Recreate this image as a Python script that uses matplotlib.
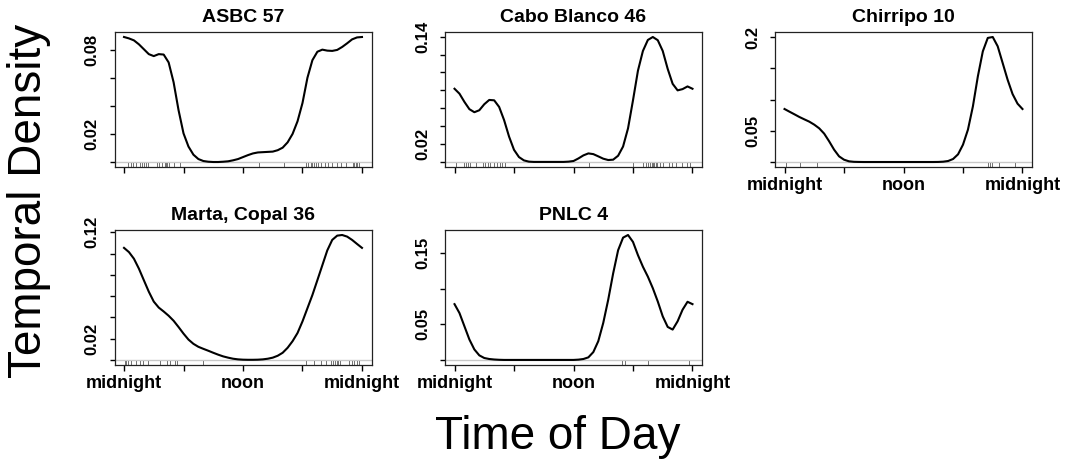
import numpy as np
import matplotlib.pyplot as plt

plt.rcParams['font.family'] = ['Liberation Sans', 'DejaVu Sans']

# density curves, one value every half hour (0 .. 24 h)
hours = np.arange(0, 24.5, 0.5)

asbc_57 = [0.0890, 0.0880, 0.0866, 0.0838, 0.0803, 0.0768, 0.0754, 0.0768, 0.0765,
           0.0709, 0.0568, 0.0369, 0.0204, 0.0110, 0.0052, 0.0021, 0.0007, 0.0002,
           0.0000, 0.0000, 0.0002, 0.0005, 0.0012, 0.0021, 0.0035, 0.0049, 0.0061,
           0.0068, 0.0070, 0.0072, 0.0074, 0.0084, 0.0102, 0.0140, 0.0200, 0.0290,
           0.0420, 0.0600, 0.0725, 0.0785, 0.0800, 0.0793, 0.0791, 0.0798, 0.0819,
           0.0845, 0.0873, 0.0887, 0.0890]

cabo_blanco_46 = [0.0818, 0.0763, 0.0671, 0.0590, 0.0556, 0.0578, 0.0645, 0.0693, 0.0689,
                  0.0615, 0.0468, 0.0284, 0.0136, 0.0055, 0.0018, 0.0004, 0.0001, 0.0001,
                  0.0001, 0.0001, 0.0001, 0.0001, 0.0001, 0.0004, 0.0011, 0.0040, 0.0074,
                  0.0096, 0.0088, 0.0063, 0.0037, 0.0022, 0.0026, 0.0070, 0.0173, 0.0376,
                  0.0689, 0.1020, 0.1240, 0.1363, 0.1396, 0.1360, 0.1240, 0.1040, 0.0873,
                  0.0800, 0.0814, 0.0844, 0.0818]

chirripo_10 = [0.0850, 0.0807, 0.0765, 0.0722, 0.0684, 0.0647, 0.0599, 0.0540, 0.0455,
               0.0332, 0.0198, 0.0091, 0.0037, 0.0011, 0.0003, 0.0001, 0.0000, 0.0000,
               0.0000, 0.0000, 0.0000, 0.0000, 0.0000, 0.0000, 0.0000, 0.0000, 0.0000,
               0.0000, 0.0000, 0.0000, 0.0000, 0.0001, 0.0005, 0.0016, 0.0048, 0.0123,
               0.0278, 0.0519, 0.0893, 0.1374, 0.1775, 0.1990, 0.2005, 0.1856, 0.1588,
               0.1320, 0.1090, 0.0936, 0.0850]

marta_copal_36 = [0.1054, 0.1014, 0.0952, 0.0859, 0.0750, 0.0642, 0.0549, 0.0493, 0.0456,
                  0.0416, 0.0369, 0.0310, 0.0248, 0.0192, 0.0152, 0.0124, 0.0105, 0.0087,
                  0.0068, 0.0050, 0.0034, 0.0022, 0.0012, 0.0006, 0.0003, 0.0002, 0.0002,
                  0.0003, 0.0006, 0.0012, 0.0022, 0.0040, 0.0068, 0.0115, 0.0177, 0.0254,
                  0.0363, 0.0487, 0.0611, 0.0750, 0.0890, 0.1030, 0.1129, 0.1169, 0.1175,
                  0.1160, 0.1129, 0.1091, 0.1054]

pnlc_4 = [0.0782, 0.0657, 0.0472, 0.0287, 0.0148, 0.0065, 0.0028, 0.0014, 0.0007,
          0.0003, 0.0001, 0.0001, 0.0001, 0.0001, 0.0001, 0.0001, 0.0001, 0.0001,
          0.0001, 0.0001, 0.0001, 0.0001, 0.0001, 0.0001, 0.0001, 0.0005, 0.0014,
          0.0037, 0.0111, 0.0264, 0.0519, 0.0843, 0.1213, 0.1537, 0.1713, 0.1750,
          0.1653, 0.1468, 0.1306, 0.1167, 0.1005, 0.0819, 0.0611, 0.0463, 0.0426,
          0.0542, 0.0704, 0.0815, 0.0782]

# detection times (rug), hours
rug_asbc = [0.4, 0.7, 0.9, 1.2, 1.6, 1.8, 2.0, 2.2, 2.4, 3.3, 3.5, 3.8, 4.1, 4.2, 4.3,
            4.5, 5.0, 5.6, 13.6, 16.1, 18.4, 18.6, 18.9, 19.0, 19.2, 19.4, 19.6, 19.9,
            20.3, 20.6, 21.0, 21.5, 21.9, 22.4, 23.1, 23.2, 23.4, 23.5, 23.7]
rug_cabo = [0.1, 1.0, 1.2, 1.4, 1.6, 2.2, 2.9, 3.1, 3.4, 3.6, 4.0, 4.3, 4.6, 4.8, 5.1,
            13.6, 18.0, 19.0, 19.3, 19.5, 19.7, 19.9, 20.0, 20.1, 20.3, 20.4, 20.7, 21.0,
            21.6, 21.9, 22.3, 22.9, 23.4, 23.7]
rug_chirripo = [0.1, 1.6, 3.3, 20.5, 20.7, 20.9, 21.6, 23.2]
rug_marta = [0.1, 0.2, 0.4, 0.7, 1.2, 1.6, 1.9, 2.4, 3.6, 4.3, 4.6, 5.1, 5.3, 8.0, 18.4,
             19.2, 19.9, 20.4, 20.9, 21.1, 21.3, 21.5, 21.6, 21.8, 22.7, 23.0, 23.2, 23.5, 23.7]
rug_pnlc = [16.9, 17.2, 19.5, 23.6]

titles = ["ASBC 57", "Cabo Blanco 46", "Chirripo 10", "Marta, Copal 36", "PNLC 4"]
curves = [asbc_57, cabo_blanco_46, chirripo_10, marta_copal_36, pnlc_4]
rugs = [rug_asbc, rug_cabo, rug_chirripo, rug_marta, rug_pnlc]
yticks = [[0, 0.02, 0.04, 0.06, 0.08],
          [0, 0.02, 0.04, 0.06, 0.08, 0.10, 0.12, 0.14],
          [0, 0.05, 0.10, 0.15, 0.20],
          [0, 0.02, 0.04, 0.06, 0.08, 0.10, 0.12],
          [0, 0.05, 0.10, 0.15]]
ylabels = [["", "0.02", "", "", "0.08"],
           ["", "0.02", "", "", "", "", "", "0.14"],
           ["", "0.05", "", "", "0.2"],
           ["", "0.02", "", "", "", "", "0.12"],
           ["", "0.05", "", "0.15"]]
xticks = [0, 6, 12, 18, 24]
xlabels = ["midnight", "", "noon", "", "midnight"]
show_xlabels = [False, False, True, True, True]

fig = plt.figure(figsize=(10.75, 4.61), dpi=100)
W, H = 1075, 461
# panel boxes in pixels: left, top
boxes = [(114.5, 32), (445, 32), (775, 32), (114.5, 230), (445, 230)]
bw, bh = 257, 135

for i in range(5):
    left, top = boxes[i]
    ax = fig.add_axes([left / W, 1 - (top + bh) / H, bw / W, bh / H])
    y = np.array(curves[i])
    m = y.max()
    ax.axhline(0, color='#c8c8c8', lw=1.0, zorder=1)
    ax.plot(hours, y, color='black', lw=1.5, zorder=3)
    for t in rugs[i]:
        ax.axvline(t, ymin=0, ymax=0.03, color='0.35', lw=0.6, zorder=2)
    ax.set_xlim(-0.96, 24.96)
    ax.set_ylim(-0.04 * m, 1.04 * m)
    ax.set_xticks(xticks)
    if show_xlabels[i]:
        ax.set_xticklabels(xlabels, fontsize=13, fontweight='bold')
    else:
        ax.set_xticklabels([""] * 5)
    ax.set_yticks(yticks[i])
    ax.set_yticklabels(ylabels[i], fontsize=12, fontweight='bold', rotation=90, va='center')
    ax.tick_params(axis='x', length=4.5, width=1.0, pad=3)
    ax.tick_params(axis='y', length=3.8, width=1.0, pad=7)
    for s in ax.spines.values():
        s.set_linewidth(0.9)
        s.set_color('#222222')
    ax.set_title(titles[i], fontsize=14, fontweight='bold', pad=7)

fig.text(29 / W, 1 - 201 / H, "Temporal Density", rotation=90, fontsize=33,
         ha='center', va='center')
fig.text(558 / W, 1 - 437 / H, "Time of Day", fontsize=33, ha='center', va='center')

fig.savefig("out.png", dpi=100)
